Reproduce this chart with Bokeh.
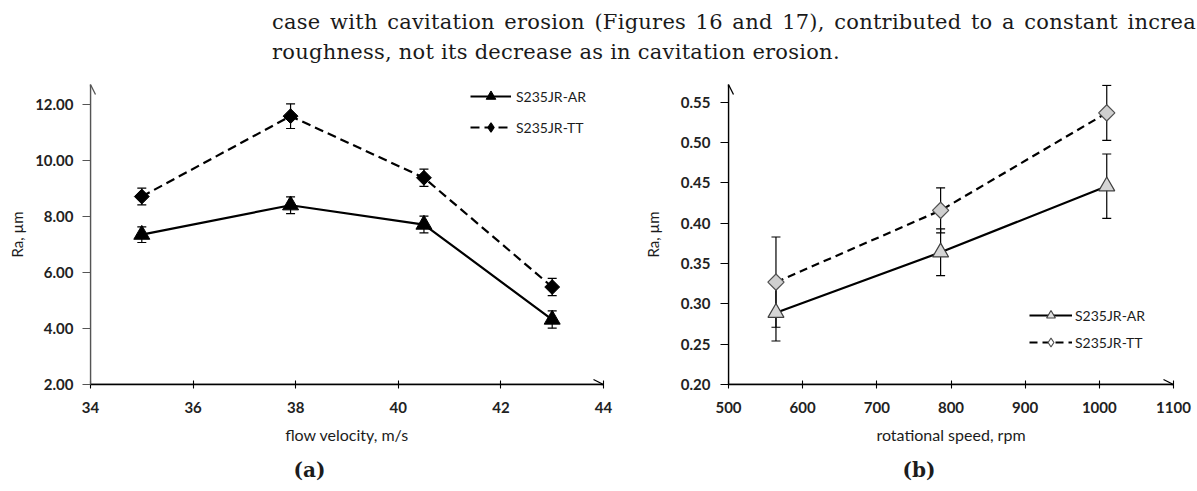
from bokeh.plotting import figure
from bokeh.models import (ColumnDataSource, Whisker, TeeHead, Arrow, OpenHead, Legend, LegendItem,
                          FixedTicker, NumeralTickFormatter, Range1d, Title, Div)
from bokeh.layouts import column, row
from bokeh.embed import file_html
from bokeh.resources import INLINE

# ---------------- data ----------------
HEADER_LINES = [
    "case with cavitation erosion (Figures 16 and 17), contributed to a constant increa",
    "roughness, not its decrease as in cavitation erosion.",
]

# (a) flow velocity
velocity = [35.0, 37.9, 40.5, 43.0]
ra_ar_a = [7.35, 8.40, 7.71, 4.32]
err_ar_a = [0.28, 0.30, 0.30, 0.31]
ra_tt_a = [8.71, 11.58, 9.38, 5.48]
err_tt_a = [0.30, 0.44, 0.31, 0.31]
xticks_a = [34, 36, 38, 40, 42, 44]
yticks_a = [2, 4, 6, 8, 10, 12]

# (b) rotational speed
speed = [564, 786, 1010]
ra_ar_b = [0.289, 0.364, 0.446]
err_ar_b = [0.035, 0.029, 0.040]
ra_tt_b = [0.327, 0.416, 0.537]
err_tt_b = [0.056, 0.028, 0.034]
xticks_b = [500, 600, 700, 800, 900, 1000, 1100]
yticks_b = [0.20, 0.25, 0.30, 0.35, 0.40, 0.45, 0.50, 0.55]

series_names = ["S235JR-AR", "S235JR-TT"]
panel_labels = ["(a)", "(b)"]
x_titles = ["flow velocity, m/s", "rotational speed, rpm"]
y_title = "Ra, µm"

TXT = "#1c1c1c"
SANS = "Lato"
NAN = float("nan")


def make_fig(width, height, xr, yr, mbl, mbr, mbt, mbb):
    p = figure(width=width, height=height, x_range=Range1d(*xr), y_range=Range1d(*yr),
               output_backend="svg", toolbar_location=None, title=None,
               min_border_left=mbl, min_border_right=mbr, min_border_top=mbt, min_border_bottom=mbb)
    p.grid.visible = False
    p.outline_line_color = None
    p.background_fill_color = "white"
    p.border_fill_color = "white"
    return p


def style_axes(p, xticks, yticks, xlabel, ycolor, lab_sy, title_sy):
    xa, ya = p.xaxis[0], p.yaxis[0]
    xa.ticker = FixedTicker(ticks=xticks)
    ya.ticker = FixedTicker(ticks=yticks)
    ya.formatter = NumeralTickFormatter(format="0.00")
    for ax in (xa, ya):
        ax.minor_tick_line_color = None
        ax.major_label_text_font = SANS
        ax.major_label_text_font_size = "15px"
        ax.major_label_text_font_style = "bold"
        ax.major_label_text_color = "#222222"
        ax.axis_label_text_font = SANS
        ax.axis_label_text_font_style = "normal"
        ax.axis_label_text_color = TXT
        ax.axis_line_width = 1.3
        ax.major_tick_line_width = 1.1
    xa.axis_line_color = "black"
    xa.major_tick_line_color = "black"
    ya.axis_line_color = ycolor
    ya.major_tick_line_color = ycolor
    xa.major_tick_in = 4
    xa.major_tick_out = 4
    ya.major_tick_in = 0
    ya.major_tick_out = 8
    xa.axis_label = xlabel
    xa.axis_label_text_font_size = "16px"
    xa.axis_label_text_line_height = 1.0
    xa.major_label_text_line_height = 1.0
    xa.major_label_standoff = 13
    xa.axis_label_standoff = 9
    ya.axis_label = y_title
    ya.axis_label_text_font_size = "15px"
    ya.major_label_standoff = lab_sy
    ya.axis_label_standoff = title_sy


def add_arrows(p, xr, yr, color_y):
    p.add_layout(Arrow(end=OpenHead(size=10, line_width=1.3, line_color=color_y),
                       x_start=xr[0], y_start=yr[0], x_end=xr[0], y_end=yr[1],
                       line_width=1.3, line_color=color_y))
    p.add_layout(Arrow(end=OpenHead(size=10, line_width=1.3, line_color="black"),
                       x_start=xr[0], y_start=yr[0], x_end=xr[1], y_end=yr[0],
                       line_width=1.3, line_color="black"))


def add_whiskers(p, xs, ys, es):
    src = ColumnDataSource(dict(x=xs, lo=[y - e for y, e in zip(ys, es)], hi=[y + e for y, e in zip(ys, es)]))
    p.add_layout(Whisker(source=src, base="x", lower="lo", upper="hi",
                         line_color="black", line_width=1.2,
                         upper_head=TeeHead(size=9, line_width=1.2, line_color="black"),
                         lower_head=TeeHead(size=9, line_width=1.2, line_color="black")))


def legend_marker(p, marker, fill, line):
    # renderer with a single undrawn (NaN) point, used only for the legend swatch
    return p.scatter([NAN], [NAN], marker=marker, size=10, fill_color=fill, line_color=line, line_width=1.1)


def panel_title(p, text, offset):
    p.add_layout(Title(text=text, align="left", offset=offset, text_font="DejaVu Serif",
                       text_font_size="20px", text_font_style="bold", text_color=TXT,
                       text_line_height=1.0, standoff=18), "below")


FIG_H = 411

# ---------------- figure (a) ----------------
xr_a = (34, 44)
yr_a = (2, 12.71)
pa = make_fig(640, FIG_H, xr_a, yr_a, 90, 37, 4, 105)
style_axes(pa, xticks_a, yticks_a, x_titles[0], "#555555", 9, 6)
add_arrows(pa, xr_a, yr_a, "#555555")
add_whiskers(pa, velocity, ra_ar_a, err_ar_a)
add_whiskers(pa, velocity, ra_tt_a, err_tt_a)
la1 = pa.line(velocity, ra_ar_a, line_color="black", line_width=2.2)
ma1 = pa.scatter(velocity, ra_ar_a, marker="triangle", size=16, fill_color="black", line_color="black")
la2 = pa.line(velocity, ra_tt_a, line_color="black", line_width=2.2, line_dash="9 5")
ma2 = pa.scatter(velocity, ra_tt_a, marker="square", angle=0.7854, size=10.5,
                 fill_color="black", line_color="black")
ga2 = legend_marker(pa, "diamond", "black", "black")
leg_a = Legend(items=[LegendItem(label=series_names[0], renderers=[la1, ma1]),
                      LegendItem(label=series_names[1], renderers=[la2, ga2])],
               location=(380, 245), padding=0, margin=0, spacing=7,
               glyph_width=41, glyph_height=24, label_height=24, label_standoff=5,
               label_text_font=SANS, label_text_font_size="14px", label_text_color=TXT,
               background_fill_alpha=0, border_line_color=None)
pa.add_layout(leg_a)
panel_title(pa, panel_labels[0], 203)

# ---------------- figure (b) ----------------
xr_b = (500, 1100)
yr_b = (0.20, 0.5722)
pb = make_fig(557, FIG_H, xr_b, yr_b, 86, 24, 2, 107)
style_axes(pb, xticks_b, yticks_b, x_titles[1], "black", 10, 16)
add_arrows(pb, xr_b, yr_b, "black")
add_whiskers(pb, speed, ra_ar_b, err_ar_b)
add_whiskers(pb, speed, ra_tt_b, err_tt_b)
lb1 = pb.line(speed, ra_ar_b, line_color="black", line_width=2.2)
mb1 = pb.scatter(speed, ra_ar_b, marker="triangle", size=16, fill_color="#d6d6d6",
                 line_color="#404040", line_width=1.2)
lb2 = pb.line(speed, ra_tt_b, line_color="black", line_width=2.2, line_dash="8 5")
mb2 = pb.scatter(speed, ra_tt_b, marker="square", angle=0.7854, size=11.5, fill_color="#cfcfcf",
                 line_color="#505050", line_width=1.2)
gb1 = legend_marker(pb, "triangle", "#e0e0e0", "#404040")
gb2 = legend_marker(pb, "diamond", "white", "#505050")
leg_b = Legend(items=[LegendItem(label=series_names[0], renderers=[lb1, gb1]),
                      LegendItem(label=series_names[1], renderers=[lb2, gb2])],
               location=(301, 31), padding=0, margin=0, spacing=5,
               glyph_width=43, glyph_height=22, label_height=22, label_standoff=3,
               label_text_font=SANS, label_text_font_size="14px", label_text_color=TXT,
               background_fill_alpha=0, border_line_color=None)
pb.add_layout(leg_b)
panel_title(pb, panel_labels[1], 174)

# ---------------- header text ----------------
header_html = (
    '<div style="position:relative;width:1197px;height:80px;overflow:visible;'
    'font-family:\'DejaVu Serif\';font-size:21px;color:#1a1a1a;letter-spacing:0.25px;">'
    '<div style="position:absolute;left:272px;top:8px;width:925px;height:28px;line-height:28px;'
    'white-space:nowrap;overflow:hidden;word-spacing:2.6px;">' + HEADER_LINES[0] + '</div>'
    '<div style="position:absolute;left:272px;top:38px;height:28px;line-height:28px;'
    'white-space:nowrap;">' + HEADER_LINES[1] + '</div>'
    '</div>'
)
header = Div(text=header_html, width=1197, height=80, margin=0, styles={"overflow": "visible"})

layout = column(header, row(pa, pb, spacing=0), spacing=0)
open("out.html", "w").write(file_html(layout, INLINE))
